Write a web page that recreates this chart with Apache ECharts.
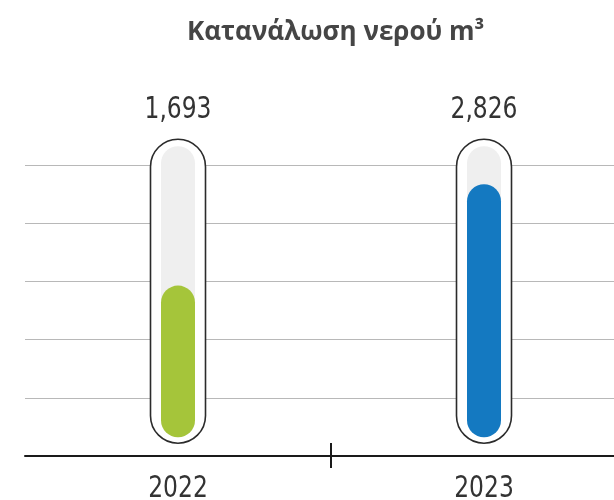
<!DOCTYPE html>
<html>
<head>
<meta charset="utf-8">
<script src="https://cdn.jsdelivr.net/npm/echarts@6/dist/echarts.min.js"></script>
<style>html,body{margin:0;padding:0;background:#fff;}#c{width:614px;height:500px;}</style>
</head>
<body>
<div id="c"></div>
<script>
const titleText = 'Κατανάλωση νερού m³';
const categories = ['2022', '2023'];
const values = [1693, 2826];
const barColors = ['#a5c53a', '#1479c1'];
const trackMax = 3250;
const valueMin = -210;
const valueMax = 3040;

const numFont = "'DejaVu Sans Condensed', 'DejaVu Sans', sans-serif";
function fmt(n) { return String(n).replace(/\B(?=(\d{3})+(?!\d))/g, ','); }

const chart = echarts.init(document.getElementById('c'), null, { renderer: 'canvas' });
chart.setOption({
  animation: false,
  backgroundColor: '#ffffff',
  title: {
    text: titleText,
    left: 182,
    top: 15,
    textStyle: { fontFamily: "'Open Sans', 'Noto Sans', sans-serif", fontWeight: 'bold', fontSize: 26, color: '#454545' }
  },
  grid: { left: 25, right: -23, top: 165, bottom: 44, containLabel: false, outerBoundsMode: 'none' },
  xAxis: {
    type: 'category', data: categories, position: 'bottom', boundaryGap: true,
    axisLine: { show: true, lineStyle: { color: '#1a1a1a', width: 2 } },
    axisTick: { show: false },
    axisLabel: { show: false },
    splitLine: { show: false }
  },
  yAxis: [
    {
      type: 'value', min: 0, max: 5, interval: 1,
      axisLine: { show: false }, axisTick: { show: false }, axisLabel: { show: false },
      splitLine: { show: true, lineStyle: { color: '#b8b8b8', width: 1 } }
    },
    {
      type: 'value', min: valueMin, max: valueMax,
      show: false, splitLine: { show: false }
    }
  ],
  series: [{
    type: 'custom',
    xAxisIndex: 0,
    yAxisIndex: 1,
    clip: false,
    data: values.map(function (v, i) { return [i, v]; }),
    renderItem: function (params, api) {
      const i = api.value(0);
      const v = api.value(1);
      const base = api.coord([i, 0]);
      const top = api.coord([i, v]);
      const tTop = api.coord([i, trackMax]);
      const axisPt = api.coord([i, valueMin]);
      const cx = base[0];
      const tw = 34;
      const fw = 55;
      const fTop = tTop[1] - 7;
      const fBot = base[1] + 6;
      const children = [
        { type: 'rect', shape: { x: cx - fw / 2, y: fTop, width: fw, height: fBot - fTop, r: fw / 2 },
          style: { fill: '#ffffff', stroke: '#2b2b2b', lineWidth: 1.6 } },
        { type: 'rect', shape: { x: cx - tw / 2, y: tTop[1], width: tw, height: base[1] - tTop[1], r: tw / 2 },
          style: { fill: '#efefef' } },
        { type: 'rect', shape: { x: cx - tw / 2, y: top[1], width: tw, height: base[1] - top[1], r: tw / 2 },
          style: { fill: barColors[params.dataIndex] } },
        { type: 'text', x: cx, y: fTop - 29.5, scaleX: 0.84,
          style: { text: fmt(v), x: 0, y: 0, align: 'center', verticalAlign: 'middle',
            fontSize: 31, fontFamily: numFont, fill: '#333333' } },
        { type: 'text', x: cx, y: axisPt[1] + 33, scaleX: 0.84,
          style: { text: categories[params.dataIndex], x: 0, y: 0, align: 'center', verticalAlign: 'middle',
            fontSize: 31, fontFamily: numFont, fill: '#333333' } }
      ];
      if (params.dataIndex === 0) {
        const next = api.coord([1, 0]);
        const mx = (cx + next[0]) / 2;
        children.push({ type: 'line', shape: { x1: mx, y1: axisPt[1] - 13, x2: mx, y2: axisPt[1] + 12 },
          style: { stroke: '#1a1a1a', lineWidth: 2 } });
      }
      return { type: 'group', children: children };
    }
  }]
});
</script>
</body>
</html>
